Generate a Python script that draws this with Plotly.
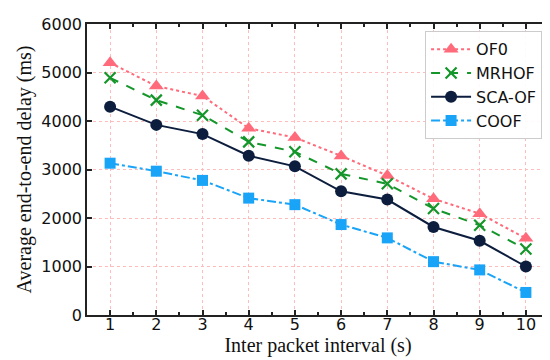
import plotly.graph_objects as go

x_vals = [1, 2, 3, 4, 5, 6, 7, 8, 9, 10]
of0 = [5200, 4720, 4515, 3850, 3660, 3280, 2875, 2395, 2090, 1580]
mrhof = [4890, 4430, 4120, 3570, 3365, 2910, 2705, 2195, 1850, 1360]
scaof = [4295, 3920, 3730, 3285, 3065, 2550, 2380, 1815, 1530, 1000]
coof = [3130, 2965, 2775, 2410, 2275, 1865, 1590, 1100, 930, 465]

names = ["OF0", "MRHOF", "SCA-OF", "COOF"]
series = [of0, mrhof, scaof, coof]
colors = ["#ff6b7b", "#14962a", "#0c1d3d", "#1aa4f8"]
dashes = ["dot", "dash", "solid", "dashdot"]
symbols = ["triangle-up", "x-thin-open", "circle", "square"]
msizes = [13, 11, 12, 11]

fig = go.Figure()
for n, s, c, d, sym, ms in zip(names, series, colors, dashes, symbols, msizes):
    marker = dict(symbol=sym, size=ms, color=c)
    if sym == "x-thin-open":
        marker["line"] = dict(color=c, width=2.2)
    fig.add_trace(go.Scatter(x=x_vals, y=s, name=n, mode="lines+markers",
                             line=dict(color=c, width=2, dash=d), marker=marker))

axis_common = dict(showline=True, linecolor="#222", linewidth=1.5, mirror="ticks",
                   ticks="inside", ticklen=5, tickwidth=1.5, tickcolor="#222",
                   showgrid=True, gridcolor="#ffbcbc", griddash="dot", gridwidth=1,
                   zeroline=False,
                   tickfont=dict(family="DejaVu Sans", size=16, color="#111"))

fig.update_xaxes(range=[0.5, 10.5], tickvals=x_vals, **axis_common,
                 ticklabelstandoff=-6,
                 minor=dict(ticks="inside", ticklen=3, tickcolor="#222", dtick=0.5, tick0=0.5, showgrid=False),
                 title=dict(text="Inter packet interval (s)", standoff=2,
                            font=dict(family="Liberation Serif", size=20, color="#111")))
fig.update_yaxes(range=[0, 6000], dtick=1000, **axis_common,
                 title=dict(text="Average end-to-end delay (ms)", standoff=4,
                            font=dict(family="Liberation Serif", size=20, color="#111")))

fig.update_layout(
    width=550, height=360,
    margin=dict(l=79, r=7, t=14, b=53),
    plot_bgcolor="white", paper_bgcolor="white",
    legend=dict(x=0.985, y=0.975, xanchor="right", yanchor="top",
                bgcolor="rgba(255,255,255,0.9)", bordercolor="#cccccc", borderwidth=1,
                font=dict(family="DejaVu Sans", size=16, color="#111"),
                itemwidth=40, tracegroupgap=0),
    showlegend=True,
)

fig.write_html("out.html")
